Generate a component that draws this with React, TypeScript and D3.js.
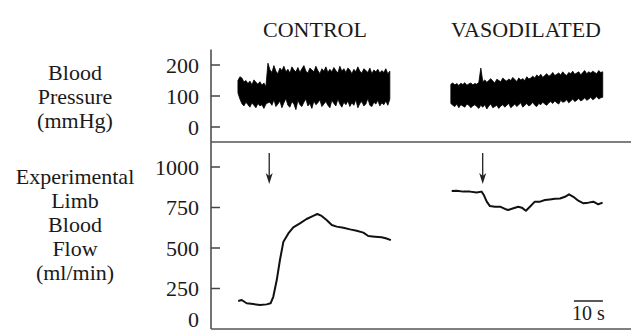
import * as d3 from "d3"

// shared time axis for both recordings, seconds
const timeDomain = [0, 145]

const bpTicks = [0, 100, 200]
const flowTicks = [0, 250, 500, 750, 1000]
const titles = ["CONTROL", "VASODILATED"]
const bpLabel = ["Blood", "Pressure", "(mmHg)"]
const flowLabel = ["Experimental", "Limb", "Blood", "Flow", "(ml/min)"]

// blood pressure envelope: upper / lower per sample (mmHg), one sample every bpStep s
const bpStep = 0.69
const controlBpStart = 9.3
const controlSystolic = [150, 162, 158, 145, 150, 140, 148, 136, 152, 144, 138, 146, 135, 142, 130, 206,
  185, 176, 198, 180, 172, 190, 182, 196, 178, 186, 174, 194, 184, 178, 192, 176, 188, 198, 180, 174,
  190, 184, 178, 196, 182, 172, 188, 180, 194, 176, 186, 178, 192, 182, 174, 196, 180, 188, 176, 190,
  184, 172, 186, 178, 194, 180, 174, 188, 182, 176, 190, 172, 184, 178, 186, 174, 182, 176, 188, 172, 180]
const controlDiastolic = [110, 90, 75, 68, 80, 72, 64, 78, 70, 62, 76, 68, 72, 60, 74, 78,
  80, 70, 88, 66, 74, 84, 62, 78, 92, 70, 64, 82, 74, 56, 86, 72, 66, 80, 90, 68,
  76, 60, 84, 72, 78, 88, 66, 74, 82, 70, 62, 86, 76, 68, 90, 74, 64, 80, 72, 84,
  66, 78, 70, 88, 62, 76, 82, 68, 74, 92, 70, 66, 80, 74, 86, 68, 78, 72, 84, 70, 90]
const vasoBpStart = 82.8
const vasoSystolic = [138, 142, 136, 140, 134, 141, 137, 143, 135, 139, 142, 136, 140, 138, 144, 190,
  146, 152, 144, 150, 156, 148, 142, 154, 150, 146, 158, 152, 148, 155, 150, 160, 153, 147, 158, 152,
  156, 150, 162, 155, 158,
  164, 158, 168, 162, 170, 160, 166, 172, 164, 168, 176, 166, 170, 174, 168, 178, 170, 166, 176, 172,
  180, 170, 174, 178, 168, 176, 182, 172, 178, 174, 180, 176, 172, 182, 176, 178]
const vasoDiastolic = [76, 70, 66, 74, 62, 72, 68, 64, 74, 70, 62, 68, 72, 66, 60, 70, 64, 72, 58, 68,
  74, 62, 66, 70, 60, 68,
  72, 64, 70, 76, 62, 68, 74, 66, 72, 78, 64, 70, 76, 68, 72, 80, 70, 66, 76, 72, 80, 74, 70, 78, 82,
  76, 84, 78, 74, 86, 80, 82, 88, 78, 84, 90, 82, 86, 92, 84, 88, 94, 86, 90, 96, 88, 92, 98, 90, 94, 96]

// limb blood flow (ml/min)
const controlFlowTime = [9.4, 10.6, 12.3, 14.6, 16.9, 19.2, 20.6, 21.5, 22.7, 23.8, 25.0, 26.7, 28.4, 30.7, 33.0, 35.3, 36.7, 38.2, 39.9, 41.7, 43.4, 45.7, 48.0, 50.3, 52.6, 54.3, 56.6, 58.9, 60.6, 62.1]
const controlFlow = [173, 179, 159, 154, 148, 152, 159, 199, 302, 426, 539, 590, 627, 652, 679, 698, 710, 698, 673, 642, 632, 625, 615, 607, 595, 574, 570, 566, 559, 549]
const vasoFlowTime = [83.1, 84.8, 87.1, 89.4, 91.7, 93.4, 94.2, 95.2, 96.3, 98.0, 99.8, 101.5, 102.6, 104.4, 106.1, 107.3, 108.7, 110.1, 111.8, 113.6, 115.3, 117.0, 118.7, 120.5, 122.2, 123.6, 125.1, 126.8, 128.6, 130.3, 132.0, 133.7, 135.2]
const vasoFlow = [852, 854, 848, 848, 842, 848, 827, 786, 759, 755, 755, 741, 735, 745, 755, 749, 730, 755, 786, 786, 796, 800, 804, 806, 816, 831, 816, 792, 776, 780, 786, 770, 780]

// infusion markers (s) and 10 s scale bar
const markerTimes = [20.1, 93.8]
const scaleBar = [125.3, 135.3]

const font = "'Liberation Serif', 'Times New Roman', serif"

function BpTrace({ start, sys, dia, x, y }: any) {
  const area = d3.area<number>()
    .x((_, i) => x(start + i * bpStep))
    .y0((_, i) => y(dia[i]))
    .y1(d => y(d))
  return <path d={area(sys) || ""} fill="#000" stroke="#000" strokeWidth={0.8} />
}

export default function App() {
  const x = d3.scaleLinear().domain(timeDomain).range([211, 631])
  const yBp = d3.scaleLinear().domain([0, 250]).range([127, 49.5])
  const yFlow = d3.scaleLinear().domain([0, 1000]).range([329, 167])
  const axisX = 211
  const sepY = 142

  const controlPts = controlFlow.map((v, i) => [x(controlFlowTime[i]), yFlow(v)] as [number, number])
  const vasoPts = vasoFlow.map((v, i) => [x(vasoFlowTime[i]), yFlow(v)] as [number, number])
  const flowLine = d3.line()

  return (
    <svg width={631} height={333} style={{ position: "absolute", left: 0, top: 0, background: "#fff" }}
      fontFamily={font} fill="#1a1a1a">
      {/* titles */}
      <text x={315} y={36.5} fontSize={22} textAnchor="middle">{titles[0]}</text>
      <text x={526} y={36.5} fontSize={22} textAnchor="middle">{titles[1]}</text>

      {/* left labels */}
      {bpLabel.map((s, i) => (
        <text key={s} x={75} y={79.5 + i * 24} fontSize={22} textAnchor="middle">{s}</text>
      ))}
      {flowLabel.map((s, i) => (
        <text key={s + i} x={75} y={184 + i * 24} fontSize={22} textAnchor="middle">{s}</text>
      ))}

      {/* axes frame */}
      <line x1={axisX} x2={axisX} y1={49.5} y2={sepY} stroke="#444" strokeWidth={1.5} />
      <line x1={axisX} x2={axisX} y1={sepY} y2={329} stroke="#444" strokeWidth={1.5} />
      <line x1={axisX} x2={631} y1={sepY} y2={sepY} stroke="#555" strokeWidth={1.6} />
      <line x1={axisX} x2={631} y1={329} y2={329} stroke="#555" strokeWidth={1.6} />

      {bpTicks.map(t => (
        <g key={"b" + t}>
          <line x1={axisX} x2={axisX + 9} y1={yBp(t)} y2={yBp(t)} stroke="#444" strokeWidth={1.5} />
          <text x={199} y={yBp(t)} dy="0.35em" fontSize={22} textAnchor="end">{t}</text>
        </g>
      ))}
      {flowTicks.map(t => (
        <g key={"f" + t}>
          {t > 0 && <line x1={axisX} x2={axisX + 9} y1={yFlow(t)} y2={yFlow(t)} stroke="#444" strokeWidth={1.5} />}
          <text x={199} y={t > 0 ? yFlow(t) : 327} dy={t > 0 ? "0.35em" : 0} fontSize={22} textAnchor="end">{t}</text>
        </g>
      ))}

      {/* blood pressure traces */}
      <BpTrace start={controlBpStart} sys={controlSystolic} dia={controlDiastolic} x={x} y={yBp} />
      <BpTrace start={vasoBpStart} sys={vasoSystolic} dia={vasoDiastolic} x={x} y={yBp} />

      {/* flow traces */}
      <path d={flowLine(controlPts) || ""} fill="none" stroke="#111" strokeWidth={2} strokeLinejoin="round" />
      <path d={flowLine(vasoPts) || ""} fill="none" stroke="#111" strokeWidth={2} strokeLinejoin="round" />

      {/* markers */}
      {markerTimes.map(t => {
        const mx = x(t)
        return (
          <g key={"m" + t}>
            <line x1={mx} x2={mx} y1={153} y2={178} stroke="#222" strokeWidth={1.3} />
            <path d={`M${mx - 3.5},${173} L${mx},${184} L${mx + 3.5},${173} L${mx},${176} Z`} fill="#222" />
          </g>
        )
      })}

      {/* scale bar */}
      <line x1={x(scaleBar[0])} x2={x(scaleBar[1])} y1={301} y2={301} stroke="#222" strokeWidth={1.5} />
      <text x={(x(scaleBar[0]) + x(scaleBar[1])) / 2} y={320} fontSize={20} textAnchor="middle">10 s</text>
    </svg>
  )
}
